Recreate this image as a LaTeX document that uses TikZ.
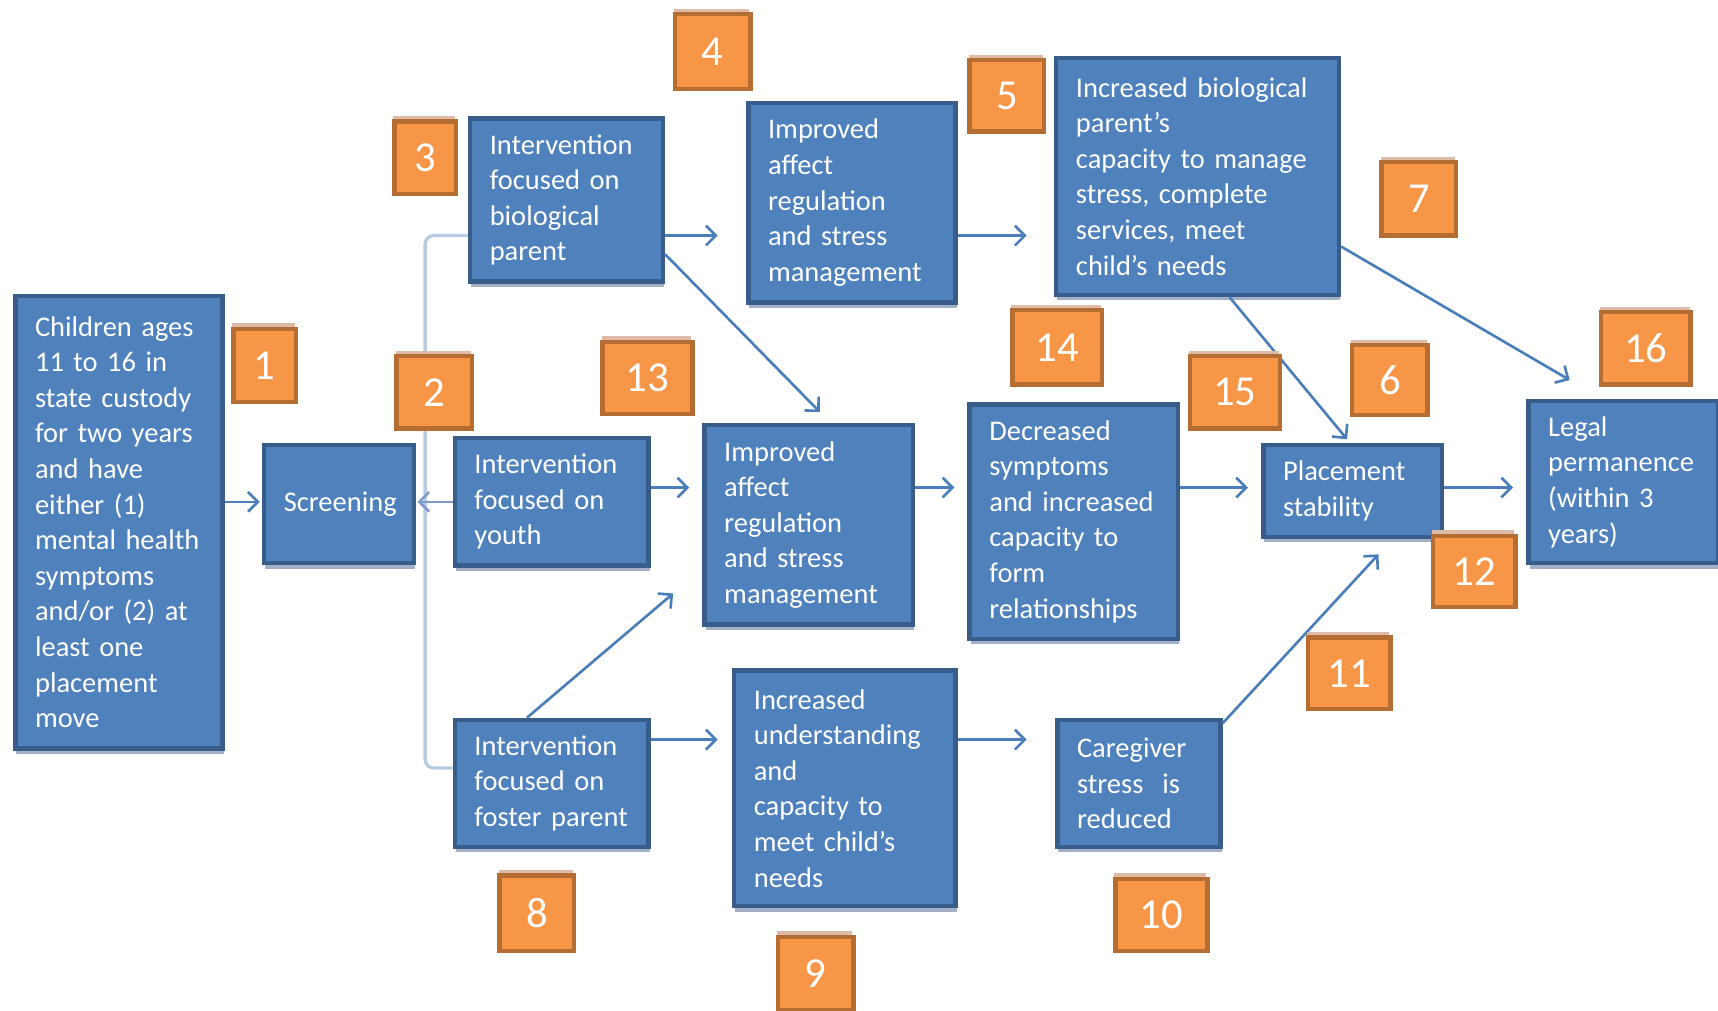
\documentclass[tikz,border=0pt]{standalone}
\usepackage{fontspec}
\setmainfont{Carlito}
\usetikzlibrary{arrows.meta,shadows,backgrounds}
\definecolor{boxblue}{HTML}{4F81BD}
\definecolor{boxline}{HTML}{385D8A}
\definecolor{boxshadow}{HTML}{A3AFC4}
\definecolor{numfill}{HTML}{F79646}
\definecolor{numline}{HTML}{B66D31}
\definecolor{numshadow}{HTML}{DDBBA8}
\definecolor{arrowblue}{HTML}{4A7EBB}
\definecolor{bracketblue}{HTML}{B9CAE4}
\definecolor{midblue}{HTML}{7C9BCB}
\begin{document}
\begin{tikzpicture}[x=1pt,y=-1pt,
  bbox/.style={rectangle, anchor=north west, fill=boxblue, draw=boxline, line width=4pt,
    text=white, align=left, inner xsep=18pt, inner ysep=0pt,
    font=\fontsize{26}{32.5}\selectfont,
    drop shadow={shadow xshift=1pt, shadow yshift=-5pt, fill=boxshadow, opacity=1}},
  nbox/.style={rectangle, anchor=north west, fill=numfill, draw=numline, line width=4pt,
    text=white, inner sep=0pt, font=\fontsize{39}{42}\selectfont,
    drop shadow={shadow xshift=-1pt, shadow yshift=5pt, fill=numshadow, opacity=1}},
  conn/.style={draw=arrowblue, line width=2.4pt, -{Straight Barb[length=9pt,width=18pt]}},
  bracket/.style={draw=bracketblue, line width=3pt, rounded corners=8pt},
]
\useasboundingbox (0,0) rectangle (1568,922);

% blue boxes
\node[bbox, text width=153pt, minimum height=413pt] (kids) at (12,268)
  {Children~ages\\11~to~16~in\\state~custody\\for~two~years\\and~have\\either~(1)\\mental~health\\symptoms\\and/or~(2)~at\\least~one\\placement\\move};
\node[bbox, text width=101pt, minimum height=108pt] (screen) at (239,404) {Screening};
\node[bbox, text width=140pt, minimum height=149pt] (bio) at (427,106)
  {Intervention\\focused~on\\biological\\parent};
\node[bbox, text width=153pt, minimum height=182pt] (imp1) at (681,92)
  {Improved\\affect\\regulation\\and~stress\\management};
\node[bbox, text width=222pt, minimum height=216pt] (incbio) at (962,51)
  {Increased~biological\\parent’s\\capacity~to~manage\\stress,~complete\\services,~meet\\child’s~needs};
\node[bbox, text width=141pt, minimum height=116pt] (youth) at (413,398)
  {Intervention\\focused~on\\youth};
\node[bbox, text width=154pt, minimum height=182pt] (imp2) at (641,386)
  {Improved\\affect\\regulation\\and~stress\\management};
\node[bbox, text width=154pt, minimum height=214pt] (dec) at (883,367)
  {Decreased\\symptoms\\and~increased\\capacity~to\\form\\relationships};
\node[bbox, text width=127pt, minimum height=84pt] (place) at (1151,404)
  {Placement\\stability};
\node[bbox, text width=137pt, minimum height=148pt] (legal) at (1393,364)
  {Legal\\permanence\\(within~3\\years)};
\node[bbox, text width=141pt, minimum height=116pt] (foster) at (413,655)
  {Intervention\\focused~on\\foster~parent};
\node[bbox, text width=166pt, minimum height=215pt] (incund) at (668,610)
  {Increased\\understanding\\and\\capacity~to\\meet~child’s\\needs};
\node[bbox, text width=113pt, minimum height=116pt] (care) at (963,655)
  {Caregiver\\stress~~is\\reduced};

% bracket from screening
\begin{scope}[on background layer]
\draw[bracket] (bio.west |- 0,215) -- (388,215) -- (388,701) -- (foster.west |- 0,701);
\end{scope}
\draw[conn, draw=midblue, shorten >=1pt] (youth.west |- 0,458) -- (screen.east |- 0,458);

% connectors
\draw[conn, shorten >=2pt] (kids.east |- 0,458) -- (screen.west |- 0,458);
\draw[conn, shorten >=26pt] (bio.east |- 0,215) -- (imp1.west |- 0,215);
\draw[conn, shorten >=25pt] (imp1.east |- 0,215) -- (incbio.west |- 0,215);
\draw[conn, shorten >=12pt] (youth.east |- 0,445) -- (imp2.west |- 0,445);
\draw[conn, shorten >=12pt] (imp2.east |- 0,445) -- (dec.west |- 0,445);
\draw[conn, shorten >=12pt] (dec.east |- 0,445) -- (place.west |- 0,445);
\draw[conn, shorten >=12pt] (place.east |- 0,445) -- (legal.west |- 0,445);
\draw[conn, shorten >=13pt] (foster.east |- 0,675) -- (incund.west |- 0,675);
\draw[conn, shorten >=26pt] (incund.east |- 0,675) -- (care.west |- 0,675);
\draw[conn, shorten >=14pt] (bio.east |- 0,232) -- (imp2.north -| 758,0);
\draw[conn, shorten >=4pt] (incbio.south -| 1122,0) -- (place.north -| 1232,0);
\draw[conn, shorten >=34pt] (incbio.east |- 0,225) -- (legal.north -| 1462,0);
\draw[conn, shorten >=35pt] (foster.north -| 481,0) -- (imp2.west |- 0,519);
\draw[conn, shorten >=19pt] (care.east |- 0,660) -- (place.south -| 1271,0);

% number boxes
\node[nbox, minimum width=57pt, minimum height=67pt] (n1) at (211,298) {1};
\node[nbox, minimum width=69pt, minimum height=66pt] (n2) at (360,323) {2};
\node[nbox, minimum width=56pt, minimum height=66pt] (n3) at (358,109) {3};
\node[nbox, minimum width=69pt, minimum height=68pt] (n4) at (614,11) {4};
\node[nbox, minimum width=68pt, minimum height=65pt] (n5) at (883,53) {5};
\node[nbox, minimum width=69pt, minimum height=64pt] (n6) at (1232,313) {6};
\node[nbox, minimum width=68pt, minimum height=67pt] (n7) at (1259,146) {7};
\node[nbox, minimum width=68pt, minimum height=69pt] (n8) at (454,797) {8};
\node[nbox, minimum width=69pt, minimum height=67pt] (n9) at (708,853) {9};
\node[nbox, minimum width=84pt, minimum height=66pt] (n10) at (1016,800) {10};
\node[nbox, minimum width=75pt, minimum height=65pt] (n11) at (1192,580) {11};
\node[nbox, minimum width=75pt, minimum height=65pt] (n12) at (1306,487) {12};
\node[nbox, minimum width=82pt, minimum height=66pt] (n13) at (548,310) {13};
\node[nbox, minimum width=82pt, minimum height=68pt] (n14) at (922,281) {14};
\node[nbox, minimum width=82pt, minimum height=66pt] (n15) at (1084,323) {15};
\node[nbox, minimum width=82pt, minimum height=66pt] (n16) at (1459,283) {16};
\end{tikzpicture}
\end{document}
